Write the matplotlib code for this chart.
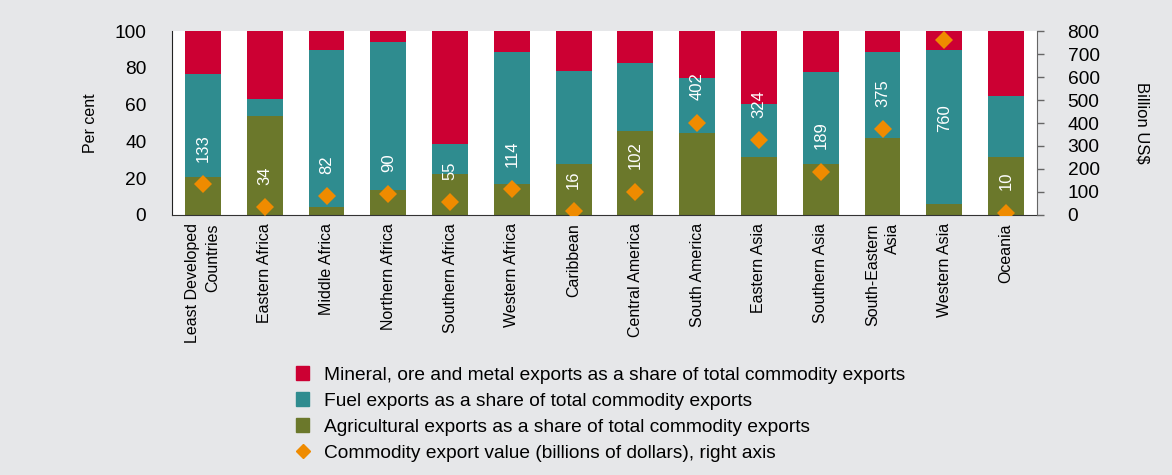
import matplotlib.pyplot as plt
from matplotlib.patches import Patch
from matplotlib.lines import Line2D
import numpy as np

plt.rcParams['font.family'] = ['Liberation Sans', 'DejaVu Sans']

regions = ['Least Developed\nCountries', 'Eastern Africa', 'Middle Africa', 'Northern Africa',
           'Southern Africa', 'Western Africa', 'Caribbean', 'Central America', 'South America',
           'Eastern Asia', 'Southern Asia', 'South-Eastern\nAsia', 'Western Asia', 'Oceania']

# shares of total commodity exports, per cent
agri = [20.8, 54.0, 4.2, 13.4, 22.5, 16.8, 27.7, 45.5, 44.7, 31.3, 27.9, 42.0, 6.0, 31.3]
fuel = [55.8, 9.2, 85.7, 80.6, 16.3, 71.8, 50.6, 36.9, 29.6, 29.2, 49.6, 46.4, 83.5, 33.4]
mineral = [100 - a - f for a, f in zip(agri, fuel)]

# commodity export value, billions of dollars
export_value = [133, 34, 82, 90, 55, 114, 16, 102, 402, 324, 189, 375, 760, 10]

red = '#cc0033'
teal = '#2f8c8f'
olive = '#6b782b'
orange = '#ef8b00'
bg = '#e6e7e9'

fs_h = 13.8   # horizontal text
fs_v = 11.5   # vertical text

fig = plt.figure(figsize=(11.72, 4.75), dpi=100, facecolor=bg)
ax = fig.add_axes([0.1468, 0.5474, 0.738, 0.3873])
ax.set_facecolor('white')
x = np.arange(len(regions))
w = 0.58

ax.bar(x, agri, w, color=olive)
ax.bar(x, fuel, w, bottom=agri, color=teal)
ax.bar(x, mineral, w, bottom=np.add(agri, fuel), color=red)

ax.set_xlim(-0.5, len(regions) - 0.5)
ax.set_ylim(0, 100)
ax.set_yticks(range(0, 101, 20))
ax.tick_params(axis='y', length=0, pad=18.5, labelsize=fs_h)
ax.tick_params(axis='x', length=0, pad=6, labelsize=fs_v)
ax.set_xticks(x)
ax.set_xticklabels(regions, rotation=90, ha='center', va='top', multialignment='right',
                   linespacing=1.45)
ax.set_ylabel('Per cent', fontsize=fs_v, labelpad=12)
ax.spines['top'].set_visible(False)
ax.spines['right'].set_visible(False)
ax.spines['left'].set_color('#222222')
ax.spines['bottom'].set_color('#333333')

ax2 = ax.twinx()
ax2.set_ylim(0, 800)
ax2.set_yticks(range(0, 801, 100))
ax2.plot(x, export_value, 'D', color=orange, markersize=9, markeredgewidth=0)
ax2.tick_params(axis='y', length=5, width=1, color='#666666', pad=17, labelsize=fs_h)
ax2.set_ylabel('Billion US$', fontsize=fs_v + 0.5, rotation=-90, labelpad=36)
for s in ['top', 'left', 'bottom']:
    ax2.spines[s].set_visible(False)
ax2.spines['right'].set_color('#666666')

# value labels, written vertically inside the bars
for xi, v in zip(x, export_value):
    if v > 700:
        ax2.annotate(str(v), (xi, v), xytext=(0, -46), textcoords='offset points',
                     rotation=90, ha='center', va='top', color='white', fontsize=fs_v + 0.5)
    else:
        ax2.annotate(str(v), (xi, v), xytext=(0, 16), textcoords='offset points',
                     rotation=90, ha='center', va='bottom', color='white', fontsize=fs_v + 0.5)

handles = [
    Patch(color=red, label='Mineral, ore and metal exports as a share of total commodity exports'),
    Patch(color=teal, label='Fuel exports as a share of total commodity exports'),
    Patch(color=olive, label='Agricultural exports as a share of total commodity exports'),
    Line2D([], [], marker='D', color=orange, linestyle='none', markersize=7,
           label='Commodity export value (billions of dollars), right axis'),
]
fig.legend(handles=handles, loc='upper left', bbox_to_anchor=(0.246, 0.245),
           frameon=False, fontsize=fs_h, handlelength=0.7, handleheight=0.7,
           handletextpad=0.75, labelspacing=0.45, borderaxespad=0)

fig.savefig('out.png', dpi=100, facecolor=bg)
